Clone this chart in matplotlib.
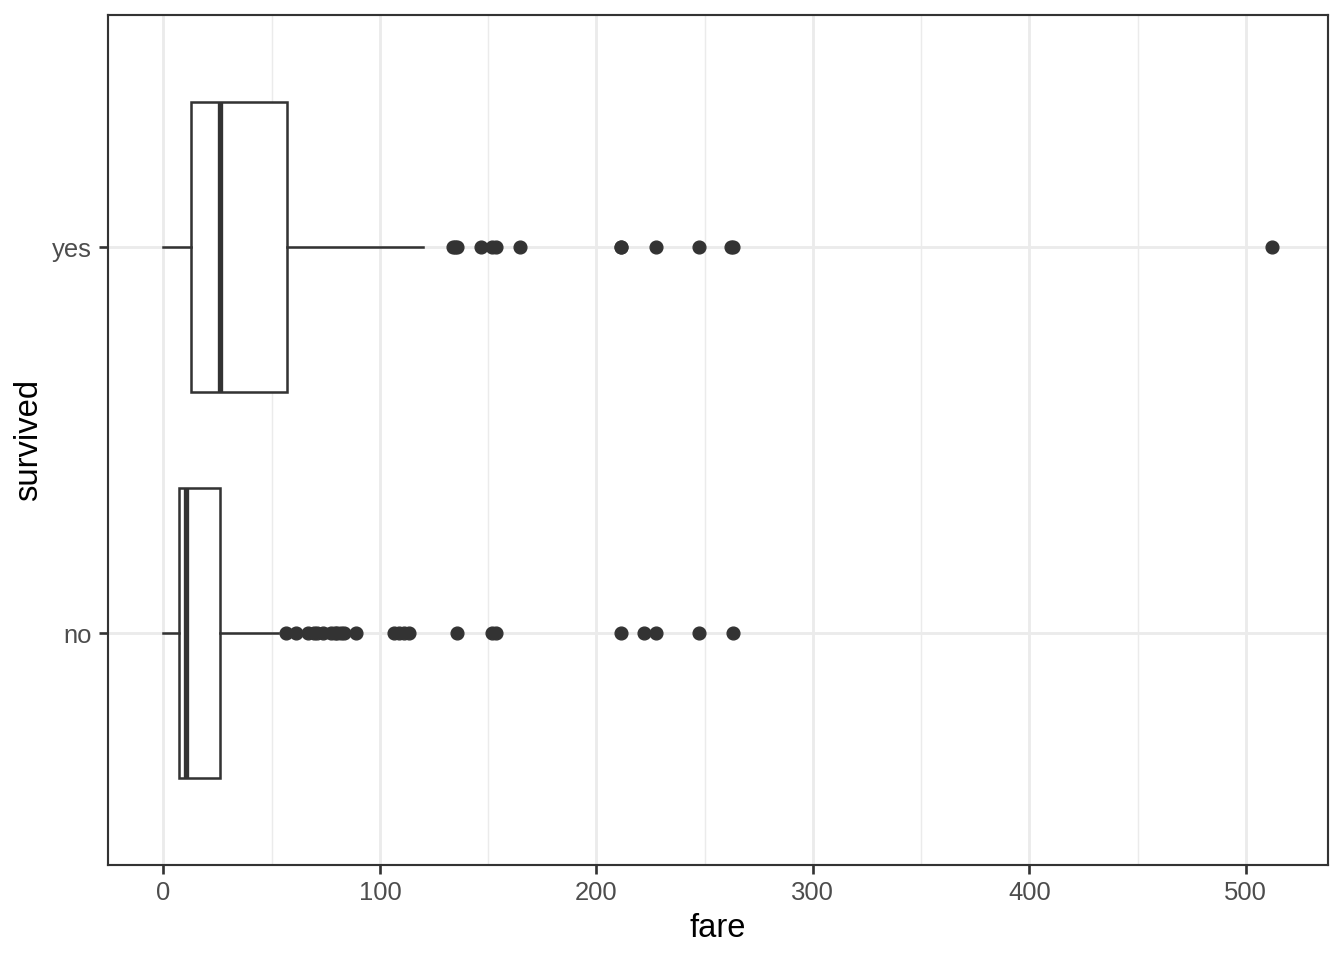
import matplotlib
matplotlib.use('Agg')
import matplotlib.pyplot as plt
from matplotlib.ticker import MultipleLocator

plt.rcParams['font.family'] = ['Liberation Sans', 'DejaVu Sans']

# box summary (fare, by survived)
groups = ['no', 'yes']
q1 = [7.4, 12.5]
med = [10.5, 26.0]
q3 = [26.0, 57.0]
whislo = [0.0, 0.0]
whishi = [53.1, 120.0]
outliers_no = [56.5, 61.2, 66.6, 69.55, 71.0, 73.5, 77.3, 79.2, 80.0, 82.2, 83.5,
               89.1, 106.4, 108.9, 110.9, 113.3, 135.6, 151.55, 153.5, 211.5,
               221.8, 227.5, 247.5, 263.0]
outliers_yes = [133.65, 134.5, 135.6, 146.5, 151.55, 153.5, 164.9, 211.3, 211.5,
                227.5, 247.5, 262.4, 263.0, 512.3]

grey20 = '#333333'

stats = []
for i, g in enumerate(groups):
    stats.append(dict(label=g, q1=q1[i], med=med[i], q3=q3[i],
                      whislo=whislo[i], whishi=whishi[i],
                      fliers=[outliers_no, outliers_yes][i]))

fig = plt.figure(figsize=(7, 5), dpi=192)
ax = fig.add_axes([0.0804, 0.099, 0.988 - 0.0804, 0.984 - 0.099])

ax.bxp(stats, positions=[1, 2], widths=0.75, vert=False, patch_artist=True,
       showcaps=False,
       boxprops=dict(facecolor='white', edgecolor=grey20, linewidth=0.95),
       medianprops=dict(color=grey20, linewidth=2.0, solid_capstyle='butt'),
       whiskerprops=dict(color=grey20, linewidth=0.95),
       flierprops=dict(marker='o', markerfacecolor=grey20, markeredgecolor=grey20,
                       markersize=4.8, markeredgewidth=0.5, linestyle='none'),
       zorder=3)

ax.set_xlim(-25.6, 537.9)
ax.set_ylim(0.4, 2.6)
ax.xaxis.set_major_locator(MultipleLocator(100))
ax.xaxis.set_minor_locator(MultipleLocator(50))
ax.set_yticks([1, 2])
ax.set_yticklabels(groups)

ax.grid(which='major', color='#EBEBEB', linewidth=1.07, zorder=0)
ax.grid(which='minor', axis='x', color='#EBEBEB', linewidth=0.55, zorder=0)
ax.set_axisbelow(True)

for s in ax.spines.values():
    s.set_color(grey20)
    s.set_linewidth(0.8)

ax.tick_params(which='major', length=3.5, width=1.0, color=grey20,
               labelcolor='#4D4D4D', labelsize=9.6, pad=2.5)
ax.tick_params(which='minor', length=0)

ax.set_xlabel('fare', fontsize=12.3, labelpad=3)
ax.set_ylabel('survived', fontsize=12.3, labelpad=3)

plt.savefig('out.png', dpi=192)
